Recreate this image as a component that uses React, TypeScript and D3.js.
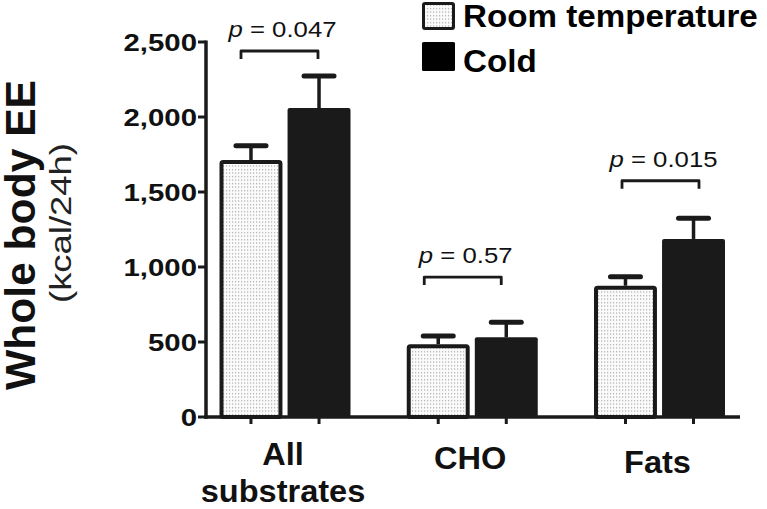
import React from "react";
import * as d3 from "d3";

const categories = ["All substrates", "CHO", "Fats"];
const categoryLines = [["All", "substrates"], ["CHO"], ["Fats"]];
const seriesNames = ["Room temperature", "Cold"];
const roomMeans = [1713, 485, 875];
const roomErr = [96, 55, 60];
const coldMeans = [2060, 531, 1187];
const coldErr = [213, 100, 138];
const pValues = ["0.047", "0.57", "0.015"];
const bracketLevels = [2440, 933, 1575];
const yTicks = [0, 500, 1000, 1500, 2000, 2500];

// style-only offsets
const bracketDx = [-5.5, -9.5, 1];
const labelDy = [-3, 1, 5];

const W = 767;
const H = 509;
const FONT = "'Liberation Sans', Arial, Helvetica, sans-serif";
const INK = "#1a1a1a";

export default function App() {
  const y = d3.scaleLinear().domain([0, 2500]).range([417, 42]);
  const xGroup = d3.scalePoint<string>().domain(categories).range([285, 659.5]);
  const xInner = d3.scaleBand<string>().domain(seriesNames).range([-65.5, 65.5]).paddingInner(0.075);
  const bw = xInner.bandwidth();
  const axisX = 206;
  const axisEnd = 740;

  const seriesData = [
    { name: seriesNames[0], means: roomMeans, errs: roomErr },
    { name: seriesNames[1], means: coldMeans, errs: coldErr },
  ];

  return (
    <svg width={W} height={H} style={{ position: "absolute", left: 0, top: 0, background: "#fff" }} fontFamily={FONT}>
      <defs>
        <pattern id="dots" width="3" height="3.5" patternUnits="userSpaceOnUse">
          <rect width="3" height="3.5" fill="#fbfbfb" />
          <rect x="1" y="1" width="1.2" height="1.2" fill="#a8a8a8" />
        </pattern>
      </defs>

      {/* bars */}
      {categories.map((c, i) => (
        <g key={c}>
          {seriesData.map((s, si) => {
            const cx = (xGroup(c) as number) + (xInner(s.name) as number) + bw / 2;
            const top = y(s.means[i]);
            const capY = y(s.means[i] + s.errs[i]);
            const isRoom = si === 0;
            const sw = isRoom ? 4 : 0;
            return (
              <g key={s.name}>
                <line x1={cx} x2={cx} y1={top} y2={capY} stroke={INK} strokeWidth={3.5} />
                <line x1={cx - 15} x2={cx + 15} y1={capY} y2={capY} stroke={INK} strokeWidth={5} strokeLinecap="round" />
                <rect
                  x={cx - bw / 2 + sw / 2}
                  y={top + sw / 2}
                  width={bw - sw}
                  height={y(0) - top - sw / 2}
                  fill={isRoom ? "url(#dots)" : INK}
                  stroke={isRoom ? INK : "none"}
                  strokeWidth={sw}
                  strokeLinejoin="round"
                  rx={isRoom ? 1.5 : 2}
                />
                <line x1={cx} x2={cx} y1={417} y2={424} stroke={INK} strokeWidth={3} />
              </g>
            );
          })}
        </g>
      ))}

      {/* axes */}
      <line x1={axisX} x2={axisX} y1={y(2500) - 1.5} y2={y(0) + 1.75} stroke={INK} strokeWidth={3.5} />
      <line x1={axisX - 1.75} x2={axisEnd} y1={y(0)} y2={y(0)} stroke={INK} strokeWidth={3.5} />
      {yTicks.map((t) => (
        <g key={t}>
          <line x1={axisX - 8} x2={axisX} y1={y(t)} y2={y(t)} stroke={INK} strokeWidth={3} />
          <text
            transform={`translate(197,${y(t) + 8.5}) scale(1.25,1)`}
            textAnchor="end"
            fontSize={23.5}
            fontWeight="bold"
            fill="#111"
          >
            {d3.format(",")(t)}
          </text>
        </g>
      ))}

      {/* category labels */}
      {categories.map((c, i) => (
        <g key={c}>
          {categoryLines[i].map((ln, li) => (
            <text
              key={ln}
              transform={`translate(${(xGroup(c) as number) - 2},${468 + labelDy[i] + li * 37}) scale(1.05,1)`}
              textAnchor="middle"
              fontSize={31}
              fontWeight="bold"
              fill="#111"
            >
              {ln}
            </text>
          ))}
        </g>
      ))}

      {/* y axis title */}
      <text
        transform={`translate(35,235) rotate(-90)`}
        textAnchor="middle"
        fontSize={43}
        fontWeight="bold"
        fill="#111"
        textLength={310}
        lengthAdjust="spacingAndGlyphs"
      >
        Whole body EE
      </text>
      <text
        transform={`translate(71,223) rotate(-90)`}
        textAnchor="middle"
        fontSize={29}
        fill="#222"
        textLength={160}
        lengthAdjust="spacingAndGlyphs"
      >
        (kcal/24h)
      </text>

      {/* p-value brackets */}
      {categories.map((c, i) => {
        const cx = (xGroup(c) as number) + bracketDx[i];
        const by = y(bracketLevels[i]);
        return (
          <g key={c}>
            <path
              d={`M${cx - 38.5},${by + 8} V${by} H${cx + 38.5} V${by + 8}`}
              fill="none"
              stroke={INK}
              strokeWidth={2.8}
              strokeLinejoin="round"
            />
            <text transform={`translate(${cx + 3},${by - 14}) scale(1.12,1)`} textAnchor="middle" fontSize={23} fill="#111">
              <tspan fontStyle="italic">p</tspan>
              {` = ${pValues[i]}`}
            </text>
          </g>
        );
      })}

      {/* legend */}
      <rect x={423.5} y={3.5} width={30} height={25} fill="url(#dots)" stroke={INK} strokeWidth={3} rx={1.5} />
      <rect x={422} y={42} width={33} height={29} fill="#000" rx={1.5} />
      <text transform="translate(463,27) scale(1.07,1)" fontSize={31} fontWeight="bold" fill="#000">
        {seriesNames[0]}
      </text>
      <text transform="translate(463,71.5) scale(1.07,1)" fontSize={31} fontWeight="bold" fill="#000">
        {seriesNames[1]}
      </text>
    </svg>
  );
}
